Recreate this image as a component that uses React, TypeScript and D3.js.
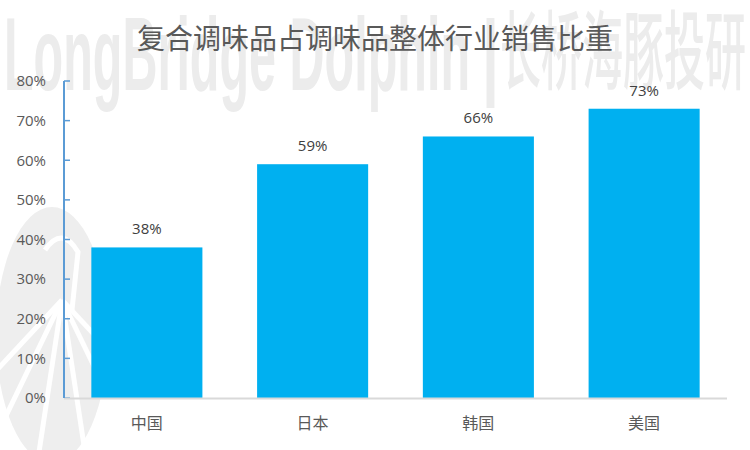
import React from "react";
import * as d3 from "d3";

const title = "复合调味品占调味品整体行业销售比重";
const watermarkLatin = "LongBridge Dolphin";
const watermarkSep = "|";
const watermarkCjk = "长桥海豚投研";
const categories = ["中国", "日本", "韩国", "美国"];
const values = [0.38, 0.59, 0.66, 0.73];
const yTicks = [0, 0.1, 0.2, 0.3, 0.4, 0.5, 0.6, 0.7, 0.8];

const W = 750;
const H = 450;
const left = 64;
const right = 727;
const top = 81;
const bottom = 398;

export default function App() {
  const x = d3.scaleBand<string>().domain(categories).range([left, right]).paddingInner(0.33).paddingOuter(0.165);
  const y = d3.scaleLinear().domain([0, 0.8]).range([bottom, top]);
  const fmt = d3.format(".0%");
  const stripes = [-0.75, -0.45, -0.15, 0.15, 0.45, 0.75];
  return (
    <div style={{ position: "absolute", left: 0, top: 0 }}>
      <svg width={W} height={H} style={{ display: "block", background: "#fff" }}>
        <g>
          <ellipse cx={52} cy={335} rx={56} ry={128} fill="#EEEEEE" />
          {stripes.map((a, i) => (
            <line
              key={i}
              x1={62}
              y1={300}
              x2={62 + Math.sin(a) * 170}
              y2={300 + Math.cos(a) * 170}
              stroke="#fff"
              strokeWidth={5}
            />
          ))}
          <path d="M45,250 Q62,225 78,252 L72,310" fill="none" stroke="#fff" strokeWidth={5} />
        </g>
        <text
          x={4}
          y={90}
          fontSize={104}
          fontWeight={700}
          fontFamily="'Liberation Sans Narrow', 'Liberation Sans', Arial, sans-serif"
          fill="#ECECEC"
          textLength={466}
          lengthAdjust="spacingAndGlyphs"
        >
          {watermarkLatin}
        </text>
        <text
          x={478}
          y={88}
          fontSize={96}
          fontFamily="'Liberation Sans', Arial, sans-serif"
          fill="#ECECEC"
        >
          {watermarkSep}
        </text>
        <text
          x={500}
          y={83}
          fontSize={86}
          fontWeight={500}
          fontFamily="'Noto Sans CJK SC', sans-serif"
          fill="#ECECEC"
          textLength={246}
          lengthAdjust="spacingAndGlyphs"
        >
          {watermarkCjk}
        </text>
        <text
          x={375}
          y={49}
          textAnchor="middle"
          fontSize={28}
          fontFamily="'Noto Sans CJK SC', sans-serif"
          fill="#595959"
        >
          {title}
        </text>
        {yTicks.map((t) => (
          <g key={t}>
            <text
              x={46}
              y={y(t)}
              dy="0.35em"
              textAnchor="end"
              fontSize={15}
              fontFamily="'Open Sans', 'Noto Sans', sans-serif"
              fill="#595959"
            >
              {fmt(t)}
            </text>
            <line x1={left} x2={left + 6} y1={y(t)} y2={y(t)} stroke="#5B9BD5" strokeWidth={1.5} />
          </g>
        ))}
        {categories.map((c, i) => (
          <g key={c}>
            <rect x={x(c)} y={y(values[i])} width={x.bandwidth()} height={bottom - y(values[i])} fill="#00B0F0" />
            <text
              x={(x(c) as number) + x.bandwidth() / 2}
              y={y(values[i]) - 13}
              textAnchor="middle"
              fontSize={15}
              fontFamily="'Open Sans', 'Noto Sans', sans-serif"
              fill="#404040"
            >
              {fmt(values[i])}
            </text>
            <text
              x={(x(c) as number) + x.bandwidth() / 2}
              y={429}
              textAnchor="middle"
              fontSize={16}
              fontFamily="'Noto Sans CJK SC', sans-serif"
              fill="#595959"
            >
              {c}
            </text>
          </g>
        ))}
        <line x1={left} x2={right} y1={bottom + 0.5} y2={bottom + 0.5} stroke="#D9D9D9" strokeWidth={2} />
        <line x1={left} x2={left} y1={top} y2={bottom} stroke="#5B9BD5" strokeWidth={2} />
      </svg>
    </div>
  );
}
